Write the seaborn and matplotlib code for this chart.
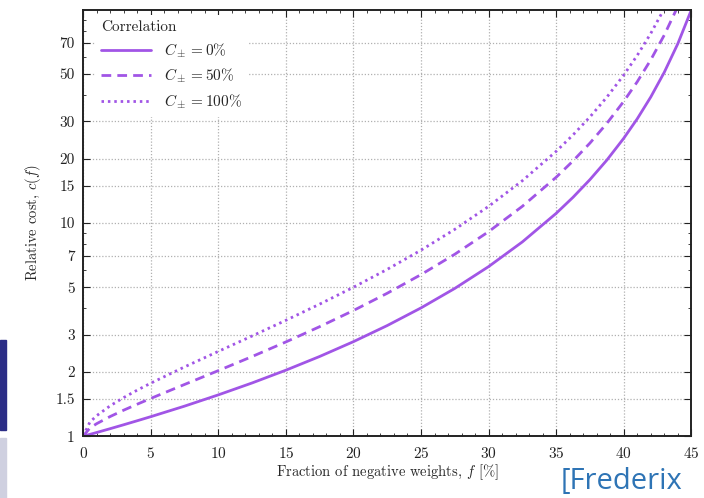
import numpy as np
import pandas as pd
import matplotlib
matplotlib.use("Agg")
import matplotlib.pyplot as plt
import matplotlib.ticker as mticker
from matplotlib.patches import Rectangle
import seaborn as sns

# values
f_pct = [0, 0.5, 1, 2, 3, 4, 5, 7.5, 10, 12.5, 15, 17.5, 20, 22.5, 25, 27.5,
         30, 32.5, 35, 36.25, 37.5, 38.75, 40, 41, 42, 43, 44, 45]
cost_c0 = [1, 1.020, 1.041, 1.085, 1.132, 1.182, 1.235, 1.384, 1.563, 1.778,
           2.041, 2.367, 2.778, 3.306, 4.0, 4.938, 6.25, 8.163, 11.11, 13.22,
           16.0, 19.75, 25.0, 30.86, 39.06, 51.02, 69.44, 100.0]
cost_c50 = [1, 1.092, 1.145, 1.237, 1.325, 1.413, 1.504, 1.749, 2.031, 2.365,
            2.769, 3.266, 3.889, 4.686, 5.732, 7.143, 9.116, 11.99, 16.41,
            19.58, 23.74, 29.37, 37.25, 46.05, 58.34, 76.28, 103.9, 149.8]
cost_c100 = [1, 1.164, 1.248, 1.389, 1.518, 1.645, 1.773, 2.114, 2.5, 2.953,
             3.498, 4.166, 5.0, 6.066, 7.464, 9.348, 11.98, 15.81, 21.71,
             25.93, 31.49, 38.99, 49.5, 61.23, 77.62, 101.5, 138.4, 199.0]
labels = [r"$C_\pm = 0\%$", r"$C_\pm = 50\%$", r"$C_\pm = 100\%$"]
xticks = [0, 5, 10, 15, 20, 25, 30, 35, 40, 45]
yticks = [1, 1.5, 2, 3, 5, 7, 10, 15, 20, 30, 50, 70]

sns.set_style("ticks")
plt.rcParams["font.family"] = "serif"
plt.rcParams["font.serif"] = ["cmr10", "DejaVu Serif"]
plt.rcParams["mathtext.fontset"] = "cm"
plt.rcParams["axes.formatter.use_mathtext"] = True

purple = "#a155e6"

fig = plt.figure(figsize=(7.04, 4.98), dpi=100)
ax = fig.add_axes([0.118, 0.124, 0.864, 0.856])

styles = ["-", (0, (3.5, 2.2)), (0, (0.9, 1.4))]
for vals, lab, ls in zip([cost_c0, cost_c50, cost_c100], labels, styles):
    sns.lineplot(x=f_pct, y=vals, ax=ax, color=purple, lw=2, linestyle=ls,
                 label=lab)

ax.set_yscale("log")
ax.set_xlim(0, 45)
ax.set_ylim(1, 100)
ax.set_xticks(xticks)
ax.xaxis.set_minor_locator(mticker.MultipleLocator(1))
ax.set_yticks(yticks)
ax.set_yticklabels([f"{v:g}" for v in yticks])
ax.yaxis.set_minor_locator(mticker.FixedLocator([4, 6, 8, 9, 40, 60, 80, 90]))
ax.yaxis.set_minor_formatter(mticker.NullFormatter())
ax.tick_params(which="both", direction="in", top=True, right=True,
               labelsize=11, colors="#222222")
ax.tick_params(axis="x", pad=7)
ax.tick_params(axis="y", pad=6)
ax.tick_params(which="major", length=5, width=0.8)
ax.tick_params(which="minor", length=2.5, width=0.6)
ax.grid(True, which="major", color="#b0b0b0", ls=(0, (1, 1.5)), lw=0.9)
for sp in ax.spines.values():
    sp.set_linewidth(1.4)
    sp.set_color("#222222")

ax.set_xlabel("Fraction of negative weights, $f$ [%]", fontsize=10.5,
              labelpad=1)
ax.set_ylabel("Relative cost, $c(f)$", fontsize=10.5, labelpad=9)

leg = ax.legend(title="Correlation", loc="upper left", frameon=True,
                bbox_to_anchor=(0.012, 1.0),
                fontsize=11, title_fontsize=11, handlelength=3.3,
                borderaxespad=0.3, borderpad=0.4, labelspacing=0.45,
                handletextpad=0.8)
leg._legend_box.align = "left"
leg.get_frame().set_edgecolor("none")
leg.get_frame().set_facecolor("white")
leg.get_frame().set_alpha(1)

# slide artefacts around the chart
fig.patches.append(Rectangle((0, 0.137), 0.009, 0.18, transform=fig.transFigure,
                             color="#2b2d86", zorder=5))
fig.patches.append(Rectangle((0, 0.0), 0.009, 0.12, transform=fig.transFigure,
                             color="#cfd0e0", zorder=5))
fig.text(0.797, 0.018, "[Frederix", fontsize=21, color="#2e74b5",
         family="Open Sans", ha="left", va="baseline")

fig.savefig("out.png", dpi=100)
